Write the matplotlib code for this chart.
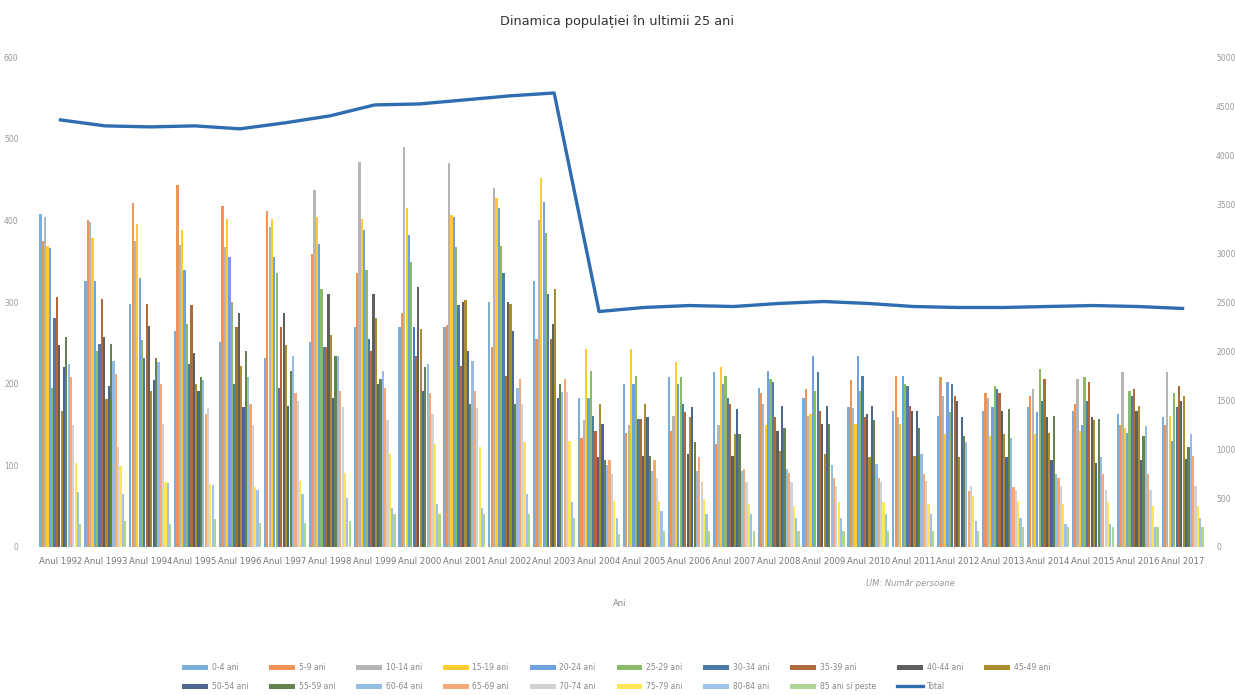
import matplotlib
matplotlib.use("Agg")
import matplotlib.pyplot as plt
import numpy as np

years = list(range(1992, 2018))
year_labels = [f"Anul {y}" for y in years]

age_groups = ["0-4 ani", "5-9 ani", "10-14 ani", "15-19 ani", "20-24 ani", "25-29 ani",
              "30-34 ani", "35-39 ani", "40-44 ani", "45-49 ani", "50-54 ani", "55-59 ani",
              "60-64 ani", "65-69 ani", "70-74 ani", "75-79 ani", "80-84 ani", "85 ani si peste"]

colors = ["#5b9bd5", "#ed7d31", "#a5a5a5", "#ffc000", "#4f8fd8", "#70ad47",
          "#255e91", "#9e480e", "#3c3c3c", "#997300", "#264478", "#43682b",
          "#7cafdd", "#f1975a", "#c8c8c8", "#ffe033", "#8ab4e8", "#9ccc7a"]

# values per year, in age-group order
an_1992 = [408, 375, 404, 369, 366, 195, 281, 306, 247, 167, 220, 257, 224, 208, 150, 103, 67, 28]
an_1993 = [326, 400, 398, 378, 326, 240, 249, 304, 257, 181, 197, 249, 228, 212, 122, 99, 65, 32]
an_1994 = [298, 421, 375, 396, 330, 253, 232, 298, 271, 191, 204, 232, 226, 200, 151, 79, 78, 28]
an_1995 = [265, 443, 370, 388, 339, 273, 224, 296, 237, 200, 191, 208, 204, 163, 170, 77, 76, 34]
an_1996 = [251, 418, 367, 402, 355, 300, 200, 269, 287, 222, 171, 240, 208, 175, 150, 73, 70, 30]
an_1997 = [232, 412, 392, 402, 355, 335, 195, 269, 287, 247, 173, 216, 234, 188, 179, 81, 65, 30]
an_1998 = [251, 359, 437, 404, 371, 316, 245, 245, 310, 259, 183, 234, 234, 191, 171, 91, 60, 32]
an_1999 = [269, 335, 471, 402, 388, 339, 255, 240, 310, 281, 200, 206, 216, 195, 155, 114, 48, 40]
an_2000 = [269, 286, 490, 415, 382, 349, 269, 234, 318, 267, 191, 220, 224, 188, 163, 126, 53, 40]
an_2001 = [269, 272, 470, 406, 404, 367, 296, 222, 300, 302, 240, 175, 228, 191, 170, 122, 48, 40]
an_2002 = [300, 245, 439, 427, 415, 369, 335, 210, 300, 298, 265, 175, 195, 206, 175, 128, 65, 40]
an_2003 = [326, 255, 400, 452, 422, 384, 310, 255, 273, 316, 183, 200, 190, 206, 190, 130, 55, 35]
an_2004 = [183, 134, 155, 243, 183, 216, 161, 142, 110, 175, 151, 106, 100, 106, 90, 56, 36, 16]
an_2005 = [200, 140, 150, 243, 200, 210, 157, 157, 112, 175, 159, 112, 93, 106, 85, 56, 44, 20]
an_2006 = [208, 142, 160, 226, 200, 208, 175, 165, 114, 159, 171, 128, 93, 110, 80, 59, 40, 20]
an_2007 = [214, 126, 150, 220, 200, 210, 182, 175, 112, 138, 169, 138, 93, 96, 80, 53, 40, 20]
an_2008 = [195, 188, 175, 150, 216, 206, 202, 159, 142, 118, 173, 146, 95, 91, 80, 50, 35, 20]
an_2009 = [182, 194, 160, 163, 234, 191, 214, 167, 151, 114, 173, 151, 100, 85, 75, 55, 35, 20]
an_2010 = [171, 204, 170, 151, 234, 191, 210, 159, 163, 110, 173, 155, 102, 85, 80, 55, 40, 20]
an_2011 = [167, 210, 159, 151, 210, 200, 197, 173, 167, 112, 167, 146, 114, 90, 81, 53, 40, 20]
an_2012 = [161, 208, 185, 138, 202, 165, 200, 185, 179, 110, 159, 136, 128, 69, 75, 63, 32, 20]
an_2013 = [167, 189, 183, 136, 171, 197, 194, 189, 167, 138, 110, 169, 134, 73, 70, 56, 36, 24]
an_2014 = [171, 185, 194, 138, 165, 218, 179, 206, 159, 140, 106, 161, 90, 85, 75, 53, 28, 24]
an_2015 = [167, 175, 206, 142, 150, 208, 179, 202, 159, 155, 103, 157, 110, 90, 70, 55, 28, 25]
an_2016 = [163, 150, 214, 146, 140, 191, 185, 194, 167, 173, 106, 136, 148, 90, 70, 50, 24, 24]
an_2017 = [159, 150, 214, 161, 130, 188, 171, 197, 179, 185, 108, 122, 138, 112, 75, 50, 36, 24]

total = [4358, 4297, 4287, 4297, 4267, 4328, 4399, 4511, 4521, 4562, 4603, 4633,
         2403, 2444, 2464, 2454, 2485, 2505, 2485, 2454, 2444, 2444, 2454, 2464, 2454, 2434]

data = np.array([an_1992, an_1993, an_1994, an_1995, an_1996, an_1997, an_1998, an_1999,
                 an_2000, an_2001, an_2002, an_2003, an_2004, an_2005, an_2006, an_2007,
                 an_2008, an_2009, an_2010, an_2011, an_2012, an_2013, an_2014, an_2015,
                 an_2016, an_2017])

W, H = 1235, 695
fig = plt.figure(figsize=(W / 100, H / 100), dpi=100)
ax = fig.add_axes([38 / W, 1 - 547 / H, (1205 - 38) / W, (547 - 57) / H])

n = len(age_groups)
x = np.arange(len(years))
group_w = 0.94
bw = group_w / n
handles = []
for i in range(n):
    b = ax.bar(x - group_w / 2 + bw * (i + 0.5), data[:, i], width=bw * 0.95,
               color=colors[i], alpha=0.82, linewidth=0, label=age_groups[i])
    handles.append(b)

ax.set_xlim(-0.5, len(years) - 0.5)
ax.set_ylim(0, 600)
ax.set_yticks(range(0, 601, 100))
ax.set_xticks(x)
ax.set_xticklabels(year_labels, fontsize=6.1, color="#777777")
ax.tick_params(axis="both", length=0, pad=7)
ax.tick_params(axis="y", labelsize=5.5, labelcolor="#999999", pad=14)
for s in ax.spines.values():
    s.set_visible(False)

ax2 = ax.twinx()
line, = ax2.plot(x, total, color="#2f6db0", lw=2.4, label="Total")
ax2.set_ylim(0, 5000)
ax2.set_yticks(range(0, 5001, 500))
ax2.tick_params(axis="y", length=0, labelsize=5.5, labelcolor="#999999", pad=8)
for s in ax2.spines.values():
    s.set_visible(False)

fig.text(0.5, 1 - 22 / H, "Dinamica populației în ultimii 25 ani", ha="center", va="center",
         fontsize=9.3, color="#333333")
fig.text(910 / W, 1 - 583 / H, "UM: Număr persoane", ha="center", va="center",
         fontsize=6, color="#999999", style="italic")
fig.text(620 / W, 1 - 603 / H, "Ani", ha="center", va="center", fontsize=6, color="#888888")

all_h = handles + [line]
all_l = age_groups + ["Total"]
order = []
for c in range(9):
    order += [c, c + 10]
order.append(9)
leg = fig.legend([all_h[k] for k in order], [all_l[k] for k in order], ncol=10,
                 loc="center", bbox_to_anchor=(616 / W, 1 - 677 / H), frameon=False,
                 fontsize=5.5, handlelength=3.4, handleheight=0.7, handletextpad=0.5,
                 columnspacing=2.7, labelspacing=1.3)
for t in leg.get_texts():
    t.set_color("#888888")

fig.savefig("out.png", dpi=100)
